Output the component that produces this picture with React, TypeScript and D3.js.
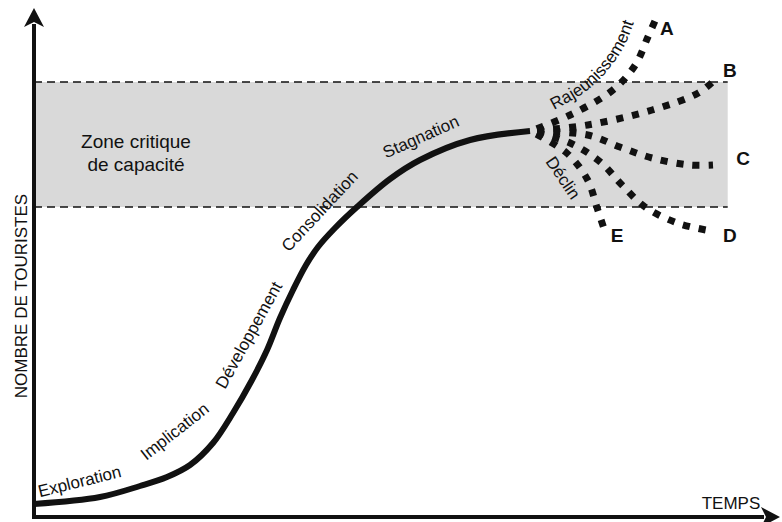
import React from 'react';
import * as d3 from 'd3';

// time (t) and number of tourists (n), in arbitrary units 0-100
const mainCurve: [number, number][] = [
  [0, 2.4], [9.43, 3.8], [15.14, 6.0], [19.0, 7.8], [22.29, 10.2], [25.57, 14.6],
  [28.43, 20.6], [31.14, 27.2], [33.29, 33.2], [35.14, 39.6], [37.0, 45.2],
  [38.86, 50.2], [40.57, 53.8], [43.0, 57.6], [46.14, 61.8], [50.86, 67.4],
  [55.14, 71.2], [62.29, 75.2], [70.86, 77.0],
];

const branchNames = ['A', 'B', 'C', 'D', 'E'];
const branchPoints: [number, number][][] = [
  [[70.9, 77.0], [76.6, 80.2], [82.7, 85.2], [85.9, 90.2], [87.7, 95.8], [88.9, 99.6]],
  [[70.9, 77.0], [79.1, 78.2], [88.3, 81.2], [94.9, 84.6], [97.1, 87.0]],
  [[70.9, 77.0], [79.1, 76.2], [83.7, 73.8], [88.3, 71.6], [93.7, 70.2], [97.0, 70.2]],
  [[70.9, 77.0], [76.6, 74.6], [80.9, 70.8], [84.0, 66.2], [87.3, 61.8], [91.9, 58.6], [96.0, 57.2]],
  [[70.9, 77.0], [76.1, 72.6], [79.1, 67.2], [80.4, 61.8], [81.4, 57.6]],
];
const branchLabelPos: [number, number][] = [
  [90.4, 97.6], [99.4, 89.2], [101.3, 71.6], [99.4, 56.2], [83.3, 56.2],
];

// capacity zone: [t0, t1], [n0, n1]
const zoneT = [0, 99.1];
const zoneN = [61.8, 86.8];
const zoneLabel = ['Zone critique', 'de capacité'];

const stageNames = ['Exploration', 'Implication', 'Développement', 'Consolidation', 'Stagnation', 'Déclin'];
const stagePos: [number, number][] = [
  [6.7, 5.8], [20.6, 16.0], [31.4, 35.6], [41.4, 60.2], [55.6, 74.8], [74.9, 67.0],
];
const stageAngle = [-14, -38, -61, -47, -24, 56];

const rejuvPath: [number, number][] = [
  [74.3, 81.2], [78.7, 84.8], [82.0, 89.2], [84.4, 94.2], [86.1, 100.4],
];

const W = 782;
const H = 522;

export default function App() {
  const x = d3.scaleLinear().domain([0, 100]).range([34, 734]);
  const y = d3.scaleLinear().domain([0, 100]).range([516, 16]);

  const line = d3
    .line<[number, number]>()
    .x((d) => x(d[0]))
    .y((d) => y(d[1]))
    .curve(d3.curveCatmullRom.alpha(0.5));

  const font = "'Liberation Sans', Arial, sans-serif";
  const x0 = x(0);
  const y0 = y(0) + 1;

  return (
    <svg width={W} height={H} style={{ position: 'absolute', left: 0, top: 0, background: '#fff' }}>
      <defs>
        <path id="rejuv" d={line(rejuvPath) || ''} />
      </defs>

      {/* capacity zone */}
      <rect
        x={x(zoneT[0])}
        y={y(zoneN[1])}
        width={x(zoneT[1]) - x(zoneT[0])}
        height={y(zoneN[0]) - y(zoneN[1])}
        fill="#d9d9d9"
      />
      {zoneN.map((n, i) => (
        <line
          key={i}
          x1={x(zoneT[0])}
          x2={x(zoneT[1])}
          y1={y(n)}
          y2={y(n)}
          stroke="#111"
          strokeWidth={1.5}
          strokeDasharray="8 5"
        />
      ))}
      <text x={136} y={148} textAnchor="middle" fontFamily={font} fontSize={19} fill="#111">
        {zoneLabel[0]}
      </text>
      <text x={136} y={171} textAnchor="middle" fontFamily={font} fontSize={19} fill="#111">
        {zoneLabel[1]}
      </text>

      {/* axes */}
      <line x1={x0} y1={y0} x2={x0} y2={24} stroke="#111" strokeWidth={4} />
      <path d={`M${x0 - 10},27 L${x0},8 L${x0 + 10},27 L${x0},22 Z`} fill="#111" />
      <line x1={x0 - 2} y1={y0} x2={764} y2={y0} stroke="#111" strokeWidth={4} />
      <path d={`M761,${y0 - 10} L780,${y0} L761,${y0 + 10} L766,${y0} Z`} fill="#111" />
      <text
        transform={`translate(27,${296}) rotate(-90)`}
        textAnchor="middle"
        fontFamily={font}
        fontSize={17}
        fill="#111"
      >
        NOMBRE DE TOURISTES
      </text>
      <text x={731} y={509} textAnchor="middle" fontFamily={font} fontSize={17} fill="#111">
        TEMPS
      </text>

      {/* branches */}
      {branchPoints.map((pts, i) => (
        <path
          key={branchNames[i]}
          d={line(pts) || ''}
          fill="none"
          stroke="#111"
          strokeWidth={7}
          strokeDasharray="7 9"
          strokeDashoffset={9}
        />
      ))}
      {branchLabelPos.map((p, i) => (
        <text
          key={branchNames[i]}
          x={x(p[0])}
          y={y(p[1])}
          textAnchor="middle"
          dominantBaseline="central"
          fontFamily={font}
          fontWeight="bold"
          fontSize={19}
          fill="#111"
        >
          {branchNames[i]}
        </text>
      ))}

      {/* main curve */}
      <path d={line(mainCurve) || ''} fill="none" stroke="#111" strokeWidth={6} strokeLinecap="butt" />

      {/* stage labels */}
      {stageNames.map((s, i) => (
        <text
          key={s}
          transform={`translate(${x(stagePos[i][0])},${y(stagePos[i][1])}) rotate(${stageAngle[i]})`}
          textAnchor="middle"
          fontFamily={font}
          fontSize={17}
          fill="#111"
        >
          {s}
        </text>
      ))}
      <text fontFamily={font} fontSize={17} fill="#111">
        <textPath href="#rejuv">Rajeunissement</textPath>
      </text>
    </svg>
  );
}
